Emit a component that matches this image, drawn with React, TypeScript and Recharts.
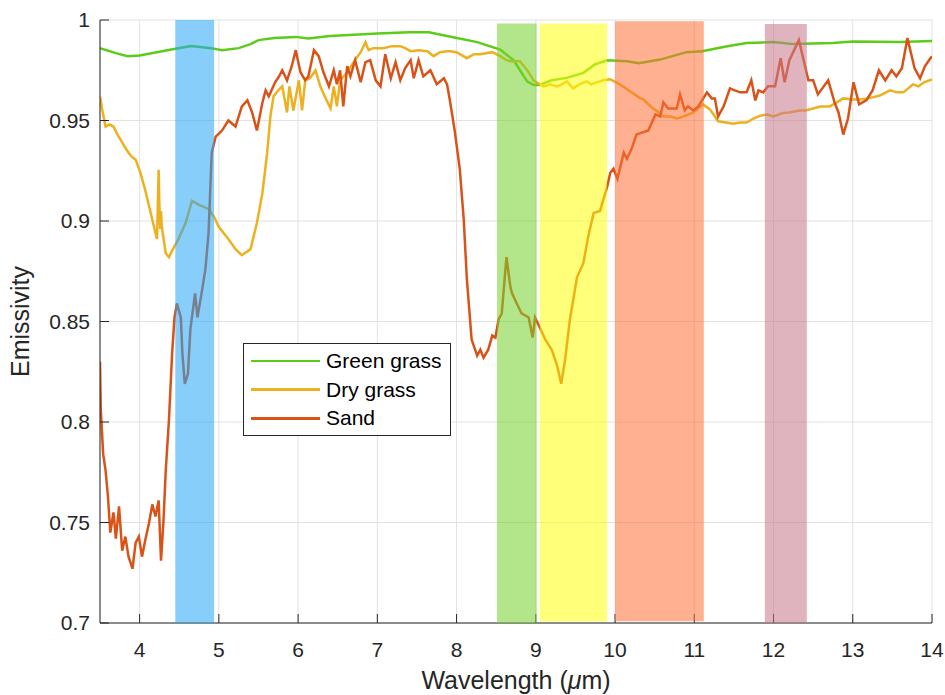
import { CartesianGrid, Legend, Line, LineChart, ReferenceArea, XAxis, YAxis } from 'recharts'

const FONT = '"Liberation Sans", Arial, Helvetica, sans-serif'
const AXIS = '#262626'

const xTicks = [4, 5, 6, 7, 8, 9, 10, 11, 12, 13, 14]
const yTicks = [0.7, 0.75, 0.8, 0.85, 0.9, 0.95, 1]

// [wavelength, emissivity]
const greenGrass: [number, number][] = [
  [3.5, 0.986], [3.7, 0.9835], [3.85, 0.982], [4.0, 0.9823], [4.2, 0.9838], [4.45, 0.9857],
  [4.65, 0.987], [4.9, 0.986], [5.04, 0.985], [5.25, 0.986], [5.4, 0.988], [5.5, 0.99],
  [5.7, 0.991], [5.97, 0.9916], [6.13, 0.9908], [6.4, 0.992], [7.0, 0.9933], [7.4, 0.9939],
  [7.65, 0.9939], [7.88, 0.992], [8.26, 0.989], [8.55, 0.9853], [8.72, 0.98], [8.8, 0.975],
  [8.89, 0.9695], [8.97, 0.9677], [9.05, 0.9677], [9.2, 0.97], [9.39, 0.9712], [9.6, 0.9737],
  [9.75, 0.978], [9.9, 0.98], [10.15, 0.9795], [10.3, 0.9785], [10.57, 0.9803], [10.9, 0.984],
  [11.1, 0.9845], [11.4, 0.9868], [11.66, 0.9886], [12.0, 0.989], [12.25, 0.988], [12.75, 0.9886],
  [13.0, 0.9893], [13.6, 0.989], [14.0, 0.9895],
]

const dryGrass: [number, number][] = [
  [3.5, 0.962], [3.53, 0.955], [3.57, 0.947], [3.62, 0.948], [3.67, 0.947], [3.72, 0.943],
  [3.76, 0.9405], [3.81, 0.937], [3.86, 0.934], [3.9, 0.932], [3.95, 0.9305], [4.01, 0.924],
  [4.07, 0.9155], [4.14, 0.904], [4.2, 0.894], [4.22, 0.891], [4.24, 0.9255], [4.25, 0.907],
  [4.26, 0.896], [4.27, 0.905], [4.28, 0.897], [4.33, 0.884], [4.37, 0.882], [4.42, 0.886],
  [4.49, 0.891], [4.58, 0.899], [4.66, 0.91], [4.75, 0.908], [4.87, 0.906], [4.94, 0.902],
  [5.0, 0.897], [5.12, 0.891], [5.21, 0.886], [5.29, 0.883], [5.4, 0.886], [5.48, 0.899],
  [5.55, 0.914], [5.61, 0.934], [5.65, 0.952], [5.69, 0.962], [5.75, 0.965], [5.8, 0.967],
  [5.86, 0.954], [5.89, 0.967], [5.94, 0.955], [6.01, 0.97], [6.05, 0.955], [6.09, 0.97],
  [6.15, 0.971], [6.22, 0.975], [6.28, 0.967], [6.36, 0.96], [6.41, 0.956], [6.45, 0.967],
  [6.49, 0.957], [6.53, 0.97], [6.62, 0.974], [6.7, 0.979], [6.79, 0.984], [6.85, 0.989],
  [6.89, 0.985], [6.95, 0.986], [7.08, 0.986], [7.18, 0.987], [7.29, 0.987], [7.35, 0.986],
  [7.42, 0.9845], [7.52, 0.985], [7.63, 0.9845], [7.71, 0.982], [7.79, 0.984], [7.88, 0.9845],
  [7.92, 0.9845], [8.0, 0.984], [8.13, 0.981], [8.22, 0.983], [8.3, 0.983], [8.45, 0.984],
  [8.55, 0.982], [8.63, 0.98], [8.68, 0.9795], [8.8, 0.9795], [8.85, 0.977], [8.91, 0.974],
  [8.97, 0.97], [9.05, 0.968], [9.1, 0.967], [9.18, 0.968], [9.27, 0.967], [9.33, 0.968],
  [9.39, 0.9695], [9.47, 0.966], [9.55, 0.968], [9.64, 0.9695], [9.7, 0.968], [9.77, 0.969],
  [9.85, 0.97], [9.94, 0.9705], [10.06, 0.968], [10.19, 0.9645], [10.32, 0.961], [10.36, 0.9604],
  [10.45, 0.957], [10.53, 0.9546], [10.61, 0.952], [10.7, 0.952], [10.78, 0.951], [10.86, 0.952],
  [10.99, 0.954], [11.11, 0.958], [11.2, 0.9554], [11.3, 0.9496], [11.4, 0.949], [11.49, 0.9484],
  [11.58, 0.949], [11.66, 0.949], [11.75, 0.951], [11.83, 0.9524], [11.92, 0.953], [12.0, 0.952],
  [12.12, 0.9538], [12.2, 0.954], [12.33, 0.955], [12.4, 0.955], [12.5, 0.956], [12.59, 0.957],
  [12.71, 0.957], [12.8, 0.959], [12.88, 0.961], [13.0, 0.9605], [13.09, 0.9604], [13.2, 0.961],
  [13.34, 0.9624], [13.47, 0.965], [13.56, 0.964], [13.64, 0.964], [13.76, 0.968], [13.83, 0.967],
  [13.9, 0.969], [13.97, 0.97], [14.0, 0.9705],
]

const sand: [number, number][] = [
  [3.5, 0.83], [3.51, 0.806], [3.54, 0.784], [3.57, 0.776], [3.6, 0.763], [3.63, 0.745],
  [3.67, 0.755], [3.7, 0.742], [3.74, 0.758], [3.78, 0.736], [3.82, 0.743], [3.86, 0.733],
  [3.91, 0.727], [3.95, 0.74], [3.99, 0.743], [4.03, 0.733], [4.07, 0.741], [4.12, 0.75],
  [4.16, 0.759], [4.2, 0.753], [4.24, 0.761], [4.27, 0.731], [4.3, 0.75], [4.33, 0.776],
  [4.37, 0.801], [4.41, 0.834], [4.44, 0.852], [4.47, 0.859], [4.52, 0.852], [4.54, 0.834],
  [4.57, 0.819], [4.61, 0.824], [4.64, 0.846], [4.7, 0.864], [4.73, 0.852], [4.79, 0.866],
  [4.83, 0.876], [4.87, 0.894], [4.91, 0.934], [4.96, 0.942], [5.04, 0.945], [5.12, 0.95],
  [5.21, 0.947], [5.29, 0.957], [5.36, 0.96], [5.42, 0.954], [5.48, 0.945], [5.55, 0.959],
  [5.59, 0.965], [5.63, 0.962], [5.71, 0.969], [5.76, 0.972], [5.8, 0.975], [5.86, 0.97],
  [5.92, 0.977], [5.97, 0.985], [6.03, 0.974], [6.09, 0.97], [6.13, 0.972], [6.2, 0.985],
  [6.26, 0.982], [6.32, 0.974], [6.39, 0.967], [6.45, 0.975], [6.49, 0.968], [6.53, 0.975],
  [6.57, 0.957], [6.62, 0.977], [6.66, 0.972], [6.72, 0.98], [6.79, 0.969], [6.85, 0.979],
  [6.91, 0.98], [6.98, 0.97], [7.04, 0.967], [7.1, 0.983], [7.17, 0.971], [7.23, 0.979],
  [7.29, 0.97], [7.35, 0.976], [7.42, 0.98], [7.46, 0.971], [7.52, 0.98], [7.58, 0.972],
  [7.67, 0.975], [7.75, 0.968], [7.84, 0.971], [7.88, 0.968], [7.92, 0.959], [7.98, 0.944],
  [8.04, 0.926], [8.09, 0.901], [8.13, 0.871], [8.19, 0.841], [8.26, 0.833], [8.3, 0.836],
  [8.34, 0.832], [8.4, 0.836], [8.45, 0.843], [8.49, 0.842], [8.53, 0.851], [8.57, 0.854],
  [8.63, 0.882], [8.68, 0.867], [8.7, 0.864], [8.76, 0.859], [8.82, 0.854], [8.91, 0.852],
  [8.96, 0.842], [8.99, 0.852], [9.05, 0.847], [9.12, 0.841], [9.2, 0.836], [9.27, 0.828],
  [9.32, 0.819], [9.37, 0.831], [9.43, 0.851], [9.52, 0.872], [9.6, 0.879], [9.66, 0.892],
  [9.73, 0.904], [9.81, 0.905], [9.9, 0.917], [9.94, 0.924], [9.98, 0.926], [10.03, 0.921],
  [10.11, 0.934], [10.15, 0.931], [10.21, 0.936], [10.27, 0.943], [10.34, 0.944], [10.42, 0.945],
  [10.51, 0.953], [10.57, 0.952], [10.61, 0.959], [10.67, 0.956], [10.78, 0.956], [10.82, 0.963],
  [10.88, 0.955], [10.92, 0.957], [10.99, 0.955], [11.05, 0.957], [11.16, 0.964], [11.22, 0.961],
  [11.26, 0.961], [11.3, 0.952], [11.37, 0.957], [11.45, 0.966], [11.51, 0.965], [11.58, 0.964],
  [11.66, 0.964], [11.72, 0.97], [11.77, 0.96], [11.81, 0.965], [11.87, 0.964], [11.93, 0.967],
  [12.02, 0.967], [12.09, 0.981], [12.14, 0.969], [12.2, 0.98], [12.32, 0.99], [12.44, 0.97],
  [12.5, 0.97], [12.56, 0.963], [12.69, 0.97], [12.77, 0.959], [12.82, 0.954], [12.88, 0.943],
  [12.94, 0.951], [13.01, 0.969], [13.08, 0.958], [13.17, 0.96], [13.25, 0.965], [13.33, 0.975],
  [13.41, 0.97], [13.49, 0.975], [13.55, 0.972], [13.62, 0.976], [13.69, 0.991], [13.78, 0.976],
  [13.85, 0.971], [13.91, 0.977], [13.98, 0.981], [14.0, 0.982],
]

// spectral bands: [from, to, bottom, top, colour]
const bands: [number, number, number, number, string][] = [
  [4.45, 4.94, 0.7, 1.0, '#24a5f5'],
  [8.51, 9.01, 0.7, 0.9983, '#74d12a'],
  [9.05, 9.9, 0.7007, 0.9983, '#ffff0d'],
  [10.0, 11.12, 0.7009, 0.9994, '#ff6f35'],
  [11.89, 12.42, 0.7, 0.998, '#c67688'],
]

const series = [
  { name: 'Green grass', color: '#5ccc1a', data: greenGrass },
  { name: 'Dry grass', color: '#edb120', data: dryGrass },
  { name: 'Sand', color: '#d95319', data: sand },
]

const toRows = (pts: [number, number][]) => pts.map(([x, y]) => ({ x, y }))

function LegendBox() {
  return (
    <div style={{ width: 208, height: 93, boxSizing: 'border-box', border: `1px solid ${AXIS}`, background: '#fff', position: 'relative', fontFamily: FONT, fontSize: 21, color: '#000' }}>
      {series.map((s, i) => (
        <div key={s.name} style={{ position: 'absolute', left: 7, top: 3 + i * 28.7, height: 28, display: 'flex', alignItems: 'center', whiteSpace: 'nowrap' }}>
          <div style={{ width: 69, height: 2.5, background: s.color }} />
          <span style={{ marginLeft: 6 }}>{s.name}</span>
        </div>
      ))}
    </div>
  )
}

export default function App() {
  const tickStyle = { fontFamily: FONT, fontSize: 21, fill: AXIS }
  return (
    <div style={{ position: 'absolute', left: 0, top: 0 }}>
      <LineChart width={945} height={695} margin={{ top: 20, right: 13, bottom: 0, left: 0 }}>
        <CartesianGrid stroke="#e2e2e2" strokeWidth={1} />
        <XAxis dataKey="x" type="number" domain={[3.5, 14]} ticks={xTicks} allowDataOverflow height={72}
          tick={tickStyle} tickSize={-9} tickMargin={28} stroke={AXIS}
          label={{ content: ({ viewBox }: any) => (
            <text x={viewBox.x + viewBox.width / 2} y={viewBox.y + 66} textAnchor="middle" fontFamily={FONT} fontSize={25} fill={AXIS}>
              Wavelength (<tspan fontStyle="italic">μ</tspan>m)
            </text>
          ) }} />
        <XAxis xAxisId="top" orientation="top" type="number" domain={[3.5, 14]} ticks={xTicks} allowDataOverflow height={0}
          tick={false} tickSize={-9} stroke={AXIS} />
        <YAxis type="number" domain={[0.7, 1]} ticks={yTicks} allowDataOverflow width={100}
          tick={tickStyle} tickSize={-9} tickMargin={19} stroke={AXIS}
          label={{ content: ({ viewBox }: any) => {
            const cx = viewBox.x + 29
            const cy = viewBox.y + viewBox.height / 2
            return (
              <text x={cx} y={cy} transform={`rotate(-90 ${cx} ${cy})`} textAnchor="middle" fontFamily={FONT} fontSize={25} fill={AXIS}>
                Emissivity
              </text>
            )
          } }} />
        <YAxis yAxisId="right" orientation="right" type="number" domain={[0.7, 1]} ticks={yTicks} allowDataOverflow width={0}
          tick={false} tickSize={-9} stroke={AXIS} />
        {series.map((s) => (
          <Line key={s.name} name={s.name} data={toRows(s.data)} dataKey="y" type="linear" stroke={s.color}
            strokeWidth={2.5} dot={false} activeDot={false} isAnimationActive={false} />
        ))}
        {bands.map(([a, b, lo, hi, c]) => (
          <ReferenceArea key={a} x1={a} x2={b} y1={lo} y2={hi} fill={c} fillOpacity={0.55} stroke="none" {...({ zIndex: 600 } as any)} />
        ))}
        <Legend layout="vertical" align="center" verticalAlign="middle" content={() => <LegendBox />}
          wrapperStyle={{ left: 243, top: 343, width: 208, height: 93 }} />
      </LineChart>
    </div>
  )
}
